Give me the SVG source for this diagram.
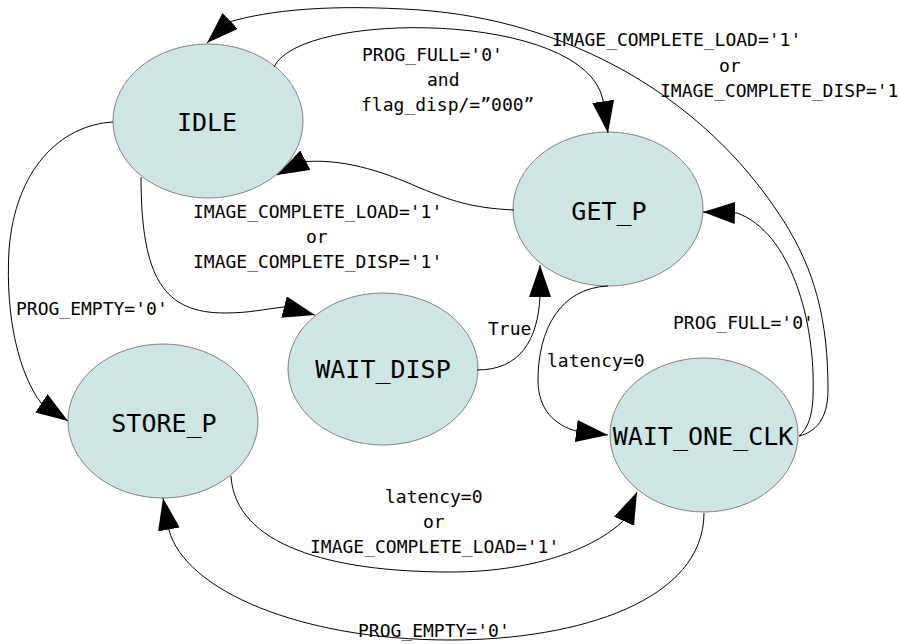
<svg xmlns="http://www.w3.org/2000/svg" width="900" height="644" viewBox="0 0 900 644">
  <defs>
    <marker id="arrow" markerUnits="userSpaceOnUse" markerWidth="34" markerHeight="24" refX="32" refY="11" orient="auto">
      <path d="M0,0 L32,11 L0,22 z" fill="#000"/>
    </marker>
    <style>
      .state ellipse { fill: #cfe7e4; stroke: #808080; stroke-width: 1; }
      .state text { font-family: "DejaVu Sans Mono", "Liberation Mono", monospace; font-size: 25px; fill: #000; text-anchor: middle; }
      .edges path { fill: none; stroke: #000; stroke-width: 1; marker-end: url(#arrow); }
      .lbl { font-family: "DejaVu Sans Mono", "Liberation Mono", monospace; font-size: 18px; fill: #000; }
    </style>
  </defs>
  <rect width="900" height="644" fill="#fff"/>

  <!-- states -->
  <g id="idle" class="state">
    <ellipse cx="208" cy="121" rx="95" ry="77"/>
    <text x="207" y="131">IDLE</text>
  </g>
  <g id="get_p" class="state">
    <ellipse cx="608" cy="209" rx="95" ry="77"/>
    <text x="609" y="220">GET_P</text>
  </g>
  <g id="wait_disp" class="state">
    <ellipse cx="383" cy="369" rx="95" ry="76"/>
    <text x="383" y="378">WAIT_DISP</text>
  </g>
  <g id="store_p" class="state">
    <ellipse cx="163" cy="421" rx="95" ry="77"/>
    <text x="164" y="432">STORE_P</text>
  </g>
  <g id="wait_one_clk" class="state">
    <ellipse cx="704" cy="435" rx="94" ry="77"/>
    <text x="703" y="445">WAIT_ONE_CLK</text>
  </g>

  <!-- transitions -->
  <g id="edges" class="edges">
    <!-- IDLE -> GET_P -->
    <path d="M274,67 C300,10 585,10 603,100 L608,133"/>
    <!-- WAIT_ONE_CLK -> IDLE (outer arc) -->
    <path d="M799,436 C815,432 828,420 828,390 C828,320 815,270 783,220 C700,90 560,20 420,10 C330,4 270,10 229,22 L207,43"/>
    <!-- GET_P -> IDLE -->
    <path d="M514,210 C470,208 450,200 420,188 C380,170 340,158 302,162 L277,175"/>
    <!-- IDLE -> WAIT_DISP -->
    <path d="M141,177 C141,280 165,313 225,313 C250,313 265,309 284,307 L315,315"/>
    <!-- IDLE -> STORE_P -->
    <path d="M113,122 C60,125 15,170 9,250 C5,320 20,375 41,403 L68,421"/>
    <!-- WAIT_DISP -> GET_P -->
    <path d="M477,370 C520,370 538,340 540,296 L540,265"/>
    <!-- GET_P -> WAIT_ONE_CLK -->
    <path d="M608,286 C560,288 538,330 538,380 C538,410 555,425 576,431 L608,435"/>
    <!-- WAIT_ONE_CLK -> GET_P -->
    <path d="M799,436 C806,430 812,420 813,397 C816,320 790,232 737,213 L703,212"/>
    <!-- STORE_P -> WAIT_ONE_CLK -->
    <path d="M231,476 C235,545 330,572 450,572 C540,572 600,545 625,519 L637,492"/>
    <!-- WAIT_ONE_CLK -> STORE_P -->
    <path d="M704,513 C704,600 580,640 450,640 C300,640 185,590 169,530 L163,498"/>
  </g>

  <!-- transition conditions -->
  <g id="labels">
    <text class="lbl" x="362" y="61">PROG_FULL='0'</text>
    <text class="lbl" x="427" y="86">and</text>
    <text class="lbl" x="361" y="111">flag_disp/=”000”</text>

    <text class="lbl" x="552" y="46">IMAGE_COMPLETE_LOAD='1'</text>
    <text class="lbl" x="719" y="72">or</text>
    <text class="lbl" x="660" y="97">IMAGE_COMPLETE_DISP='1</text>

    <text class="lbl" x="193" y="218">IMAGE_COMPLETE_LOAD='1'</text>
    <text class="lbl" x="306" y="243">or</text>
    <text class="lbl" x="193" y="268">IMAGE_COMPLETE_DISP='1'</text>

    <text class="lbl" x="16" y="315">PROG_EMPTY='0'</text>
    <text class="lbl" x="488" y="335">True</text>
    <text class="lbl" x="547" y="367">latency=0</text>
    <text class="lbl" x="673" y="329">PROG_FULL='0'</text>

    <text class="lbl" x="385" y="503">latency=0</text>
    <text class="lbl" x="423" y="528">or</text>
    <text class="lbl" x="310" y="553">IMAGE_COMPLETE_LOAD='1'</text>

    <text class="lbl" x="358" y="637">PROG_EMPTY='0'</text>
  </g>
</svg>
